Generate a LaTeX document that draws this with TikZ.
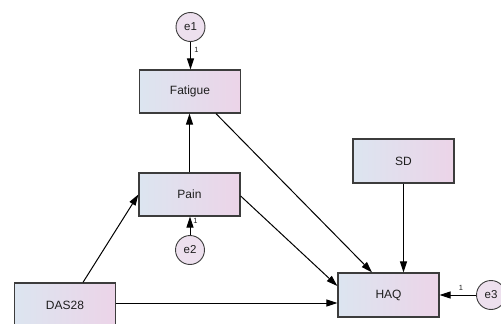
\documentclass[tikz,border=0pt]{standalone}
\usepackage{fontspec}
\setmainfont{Liberation Sans}
\usetikzlibrary{arrows.meta}
\definecolor{boxleft}{RGB}{220,229,240}
\definecolor{boxright}{RGB}{236,212,232}
\definecolor{circfill}{RGB}{237,224,238}
\definecolor{edgegray}{RGB}{60,60,60}
\definecolor{txt}{RGB}{30,30,30}
\begin{document}
\begin{tikzpicture}[x=1pt,y=-1pt,
  var/.style={draw=edgegray, line width=1.3pt, left color=boxleft, right color=boxright,
    minimum width=101pt, minimum height=43pt, inner sep=0pt, text=txt,
    font=\fontsize{12}{14}\selectfont},
  err/.style={circle, draw=edgegray, line width=0.9pt, fill=circfill, minimum size=29pt,
    inner sep=0pt, text=txt, font=\fontsize{11.5}{13}\selectfont},
  arr/.style={draw=black, line width=1pt, -{Triangle[length=11pt,width=7pt]}},
  one/.style={font=\fontsize{7.5}{8}\selectfont, text=txt, inner sep=0pt}]
\useasboundingbox (0,0) rectangle (501,324);
\node[var] (fatigue) at (190,91.5) {Fatigue};
\node[var] (pain) at (189.5,194.5) {Pain};
\node[var, minimum height=44pt] (sd) at (403.5,161) {SD};
\node[var, minimum height=44pt] (das) at (65,305) {DAS28};
\node[var, minimum height=44pt] (haq) at (388.5,295) {HAQ};
\node[err] (e1) at (190.5,27) {e1};
\node[err] (e2) at (190,250) {e2};
\node[err] (e3) at (491,295) {e3};
\draw[arr] (e1.south) -- (e1.south |- fatigue.north);
\draw[arr] (e2.north) -- (e2.north |- pain.south);
\draw[arr] (e3.west) -- (e3.west -| haq.east);
\draw[arr] (pain.north) -- (pain.north |- fatigue.south);
\draw[arr] ([xshift=26pt]fatigue.south) -- ([xshift=-16.5pt]haq.north);
\draw[arr] ([yshift=-1.5pt]pain.east) -- ([yshift=9pt]haq.west);
\draw[arr] ([xshift=18pt]das.north) -- (pain.west);
\draw[arr] (sd.south) -- (sd.south |- haq.north);
\draw[arr] ([yshift=2pt]das.east) -- ([yshift=2pt]das.east -| haq.west);
\node[one] (l1) at (196.5,50) {1};
\node[one] (l2) at (195.5,220.5) {1};
\node[one] (l3) at (461,288) {1};
\end{tikzpicture}
\end{document}
